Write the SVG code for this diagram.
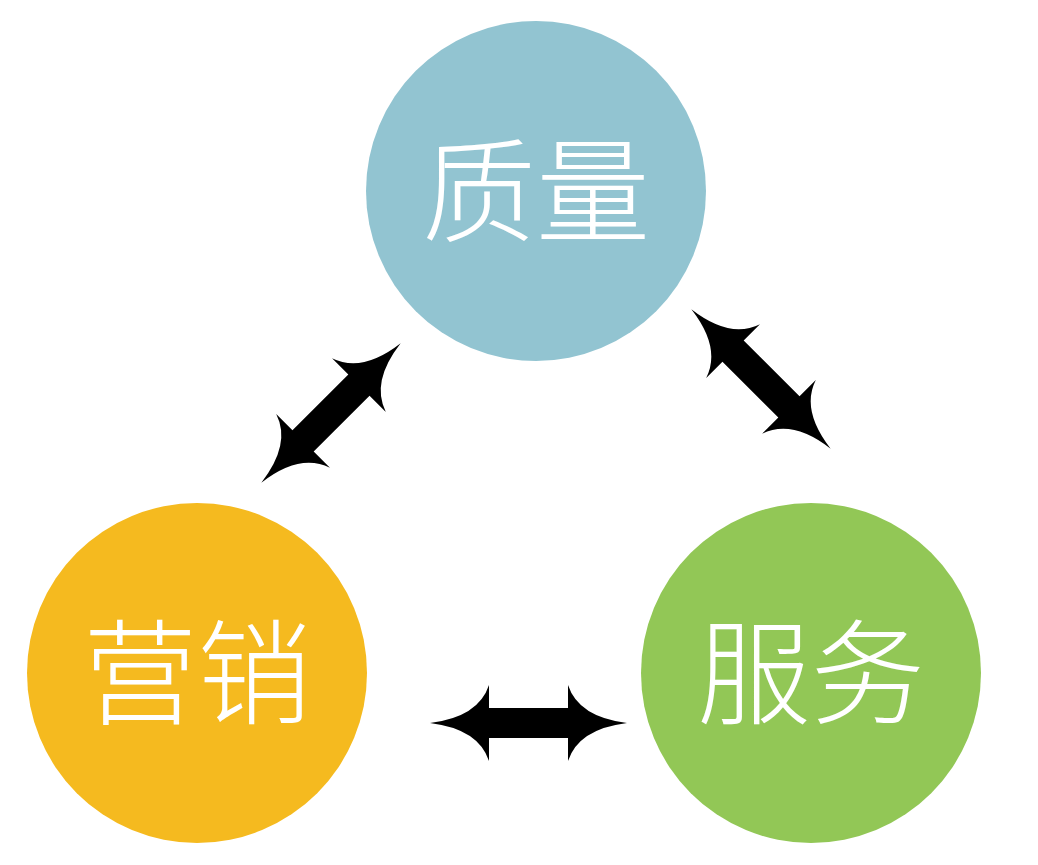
<svg xmlns="http://www.w3.org/2000/svg" width="1038" height="865" viewBox="0 0 1038 865">
<defs>
<style>
.lbl{font-family:"Noto Sans CJK SC","Noto Sans CJK JP",sans-serif;font-size:114px;fill:#ffffff;text-anchor:middle;dominant-baseline:central;font-weight:300}
.arr{fill:#000000}
</style>
<path id="dbl" d="M -98.5,0 Q -50,-6 -39.5,-38 L -39.5,-15 L 39.5,-15 L 39.5,-38 Q 50,-6 98.5,0 Q 50,6 39.5,38 L 39.5,15 L -39.5,15 L -39.5,38 Q -50,6 -98.5,0 Z"/>
</defs>
<rect width="1038" height="865" fill="#ffffff"/>
<g id="quality">
<circle cx="536" cy="191" r="170" fill="#92C4D1"/>
<text class="lbl" x="536" y="183">质量</text>
</g>
<g id="marketing">
<circle cx="197" cy="673" r="170" fill="#F5BA1F"/>
<text class="lbl" x="197" y="665">营销</text>
</g>
<g id="service">
<circle cx="811" cy="673" r="170" fill="#92C756"/>
<text class="lbl" x="811" y="665">服务</text>
</g>
<g id="connectors" class="arr">
<use href="#dbl" transform="translate(331,413) rotate(-45)"/>
<use href="#dbl" transform="translate(761,379) rotate(45)"/>
<use href="#dbl" transform="translate(528.5,723)"/>
</g>
</svg>
